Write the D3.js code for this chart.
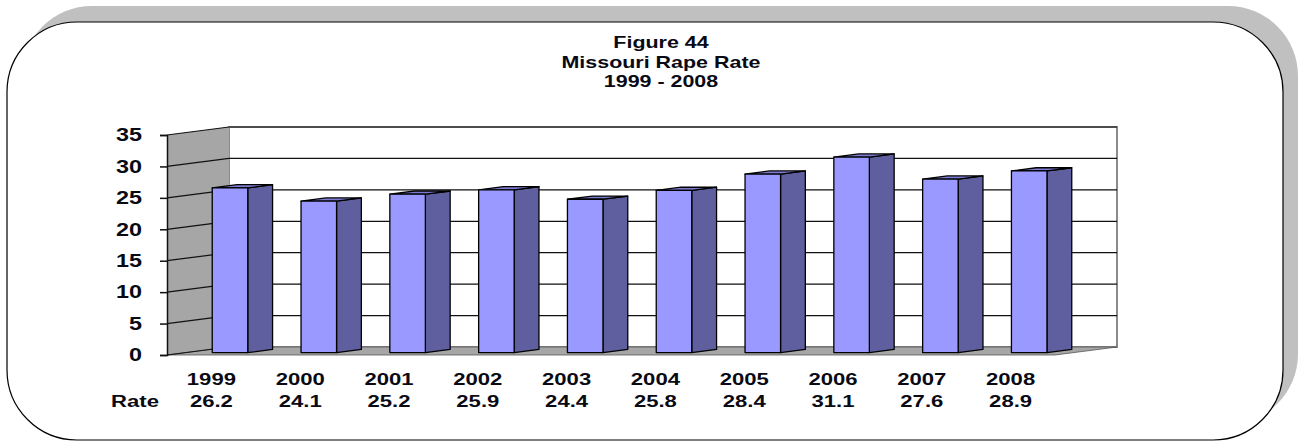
<!DOCTYPE html>
<html>
<head>
<meta charset="utf-8">
<script src="https://cdn.jsdelivr.net/npm/d3@7"></script>
<style>
  html, body { margin: 0; padding: 0; background: #fff; }
  svg { display: block; }
  text { font-family: "Liberation Sans", Arial, sans-serif; font-weight: bold; fill: #0a0a14; }
</style>
</head>
<body>
<svg id="chart" width="1303" height="441"></svg>
<script>
// Missouri rape rate per 100,000, 1999-2008
const years = ["1999", "2000", "2001", "2002", "2003", "2004", "2005", "2006", "2007", "2008"];
const rates = [26.2, 24.1, 25.2, 25.9, 24.4, 25.8, 28.4, 31.1, 27.6, 28.9];
const yTicks = [0, 5, 10, 15, 20, 25, 30, 35];
const titleLines = ["Figure 44", "Missouri Rape Rate", "1999 - 2008"];
const rowLabel = "Rate";

const svg = d3.select("#chart");
const SX = 1.3;                 // horizontal stretch of the lettering
const depth = { dx: 62, dy: -8 }; // 3D offset from front plane to back wall

// Rounded frame with offset drop shadow
const frame = { x: 7, y: 22, w: 1276, h: 418, r: 70 };
svg.append("rect")
  .attr("x", frame.x + 15).attr("y", frame.y - 16)
  .attr("width", frame.w).attr("height", frame.h)
  .attr("rx", frame.r).attr("ry", frame.r)
  .attr("fill", "#c0c0c0");
svg.append("rect")
  .attr("x", frame.x).attr("y", frame.y)
  .attr("width", frame.w).attr("height", frame.h)
  .attr("rx", frame.r).attr("ry", frame.r)
  .attr("fill", "#fff").attr("stroke", "#000").attr("stroke-width", 1.2);

// Scales on the front plane
const x = d3.scaleBand().domain(years).range([167, 1055]).paddingInner(0.6).paddingOuter(0.3);
const y = d3.scaleLinear().domain([0, 35]).range([355, 135]);
const x0 = x.range()[0], x1 = x.range()[1];

const pt = (px, py, f) => [px + depth.dx * f, py + depth.dy * f];
const poly = pts => pts.map(p => p.join(",")).join(" ");

const walls = svg.append("g");

// Back wall
walls.append("rect")
  .attr("x", x0 + depth.dx).attr("y", y(35) + depth.dy)
  .attr("width", x1 - x0).attr("height", y(0) - y(35))
  .attr("fill", "#fff").attr("stroke", "#8a8a8a").attr("stroke-width", 2);

// Left side wall
walls.append("polygon")
  .attr("points", poly([pt(x0, y(0), 0), pt(x0, y(35), 0), pt(x0, y(35), 1), pt(x0, y(0), 1)]))
  .attr("fill", "#a6a6a6");

// Floor
walls.append("polygon")
  .attr("points", poly([pt(x0, y(0), 0), pt(x1, y(0), 0), pt(x1, y(0), 1), pt(x0, y(0), 1)]))
  .attr("fill", "#a6a6a6").attr("stroke", "#555").attr("stroke-width", 0.8);

// Gridlines: along the side wall, then across the back wall
const grid = walls.append("g").attr("stroke", "#111").attr("stroke-width", 1.2).attr("fill", "none");
grid.selectAll("polyline").data(yTicks.filter(t => t > 0)).join("polyline")
  .attr("points", t => poly([pt(x0, y(t), 0), pt(x0, y(t), 1), pt(x1, y(t), 1)]));
grid.append("polyline")
  .attr("points", poly([pt(x0, y(0), 0), pt(x0, y(0), 1)]));

// Value axis on the front edge
const axis = svg.append("g")
  .attr("transform", `translate(${x0},0)`)
  .call(d3.axisLeft(y).tickValues(yTicks).tickSize(7).tickPadding(18));
axis.select(".domain").attr("stroke", "#111").attr("stroke-width", 1.5);
axis.selectAll(".tick line").attr("stroke", "#111").attr("stroke-width", 1.5);
axis.selectAll(".tick text")
  .style("font-size", "18px")
  .style("font-family", "'Liberation Sans', Arial, sans-serif")
  .attr("fill", "#0a0a14")
  .each(function () {
    const t = d3.select(this);
    const tx = +t.attr("x");
    t.attr("x", 0).attr("transform", `translate(${tx},0) scale(${SX},1)`);
  });

// 3D columns: front face, right side, top
const f0 = 0.3, f1 = 0.7;
const bars = svg.append("g").attr("stroke", "#000").attr("stroke-width", 1.3).attr("stroke-linejoin", "round");
const data = years.map((yr, i) => ({ yr, v: rates[i] }));
const col = bars.selectAll("g").data(data).join("g");
col.append("polygon")
  .attr("fill", "#5f5f9f")
  .attr("points", d => {
    const r = x(d.yr) + x.bandwidth();
    return poly([pt(r, y(0), f0), pt(r, y(d.v), f0), pt(r, y(d.v), f1), pt(r, y(0), f1)]);
  });
col.append("polygon")
  .attr("fill", "#7b7bcf")
  .attr("points", d => {
    const l = x(d.yr), r = l + x.bandwidth();
    return poly([pt(l, y(d.v), f0), pt(r, y(d.v), f0), pt(r, y(d.v), f1), pt(l, y(d.v), f1)]);
  });
col.append("polygon")
  .attr("fill", "#9999ff")
  .attr("points", d => {
    const l = x(d.yr), r = l + x.bandwidth();
    return poly([pt(l, y(0), f0), pt(l, y(d.v), f0), pt(r, y(d.v), f0), pt(r, y(0), f0)]);
  });

// Stretched text helper
function label(g, txt, tx, ty, anchor, size) {
  return g.append("text")
    .attr("transform", `translate(${tx},${ty}) scale(${SX},1)`)
    .attr("text-anchor", anchor)
    .style("font-size", size + "px")
    .text(txt);
}

// Data table under the columns
const table = svg.append("g");
years.forEach((yr, i) => {
  const cx = x(yr) + x.bandwidth() / 2;
  label(table, yr, cx, 385, "middle", 17);
  label(table, rates[i].toFixed(1), cx, 407, "middle", 17);
});
label(table, rowLabel, 159, 407, "end", 17);

// Title
const title = svg.append("g");
titleLines.forEach((t, i) => label(title, t, 661, 48 + i * 19.5, "middle", 16.5));
</script>
</body>
</html>
